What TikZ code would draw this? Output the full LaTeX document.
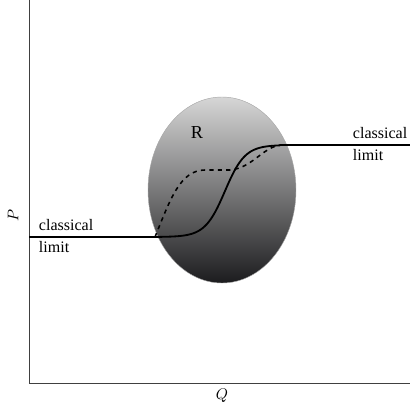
\documentclass[tikz,border=0pt]{standalone}
\usepackage{fontspec}
\setmainfont{Liberation Serif}
\usepackage{tikz}
\definecolor{regtop}{RGB}{214,214,214}
\definecolor{regmid}{RGB}{104,108,114}
\definecolor{regbot}{RGB}{28,28,30}

\begin{document}
\begin{tikzpicture}[x=0.025cm, y=-0.025cm, font=\fontsize{11.4}{14}\selectfont]
  \useasboundingbox (0,0) rectangle (410,410);
  % shaded region
  \shade[top color=regtop, middle color=regmid, bottom color=regbot, draw=gray!70, line width=0.3pt]
    (222,190) ellipse (74 and 93);
  \node[font=\fontsize{13}{15}\selectfont] (R) at (197,133) {R};
  % axes
  \coordinate (O) at (29,383);
  \coordinate (ytop) at (29,0);
  \coordinate (xend) at (410,383);
  \draw[gray!50!black, line width=0.7pt] (ytop) -- (O) -- (xend);
  \node[rotate=90] (P) at (13,215) {$P$};
  \node (Q) at (222,396) {$Q$};
  % classical limits
  \coordinate (lowL) at (29,237);
  \coordinate (lowR) at (160,237);
  \coordinate (highL) at (280,145);
  \coordinate (highR) at (410,145);
  \draw[line width=1.3pt] (lowL) -- (lowR);
  \draw[line width=1.3pt] (highL) -- (highR);
  \draw[line width=1.3pt, domain=160:280, smooth, samples=60, variable=\x]
    plot (\x, {191 - 46*tanh((\x-225)/20)});
  \draw[line width=1.1pt, dashed] (155,237) .. controls (170,200) and (180,170) .. (205,170)
    -- (230,170) .. controls (252,168) and (262,148) .. (highL);
  \node[align=left, anchor=west] (cl) at (34,236) {classical\\[1pt]limit};
  \node[align=left, anchor=west] (cr) at (348,144) {classical\\[1pt]limit};
\end{tikzpicture}
\end{document}
